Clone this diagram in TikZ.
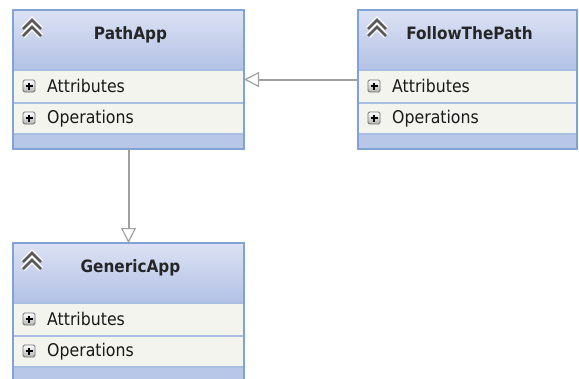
\documentclass[tikz,border=0pt]{standalone}
\usepackage{fontspec}
\setmainfont{DejaVu Sans Condensed}
\usetikzlibrary{arrows.meta}

\definecolor{clsborder}{RGB}{128,162,212}
\definecolor{hdtop}{RGB}{220,226,244}
\definecolor{hdbottom}{RGB}{178,193,229}
\definecolor{rowbg}{RGB}{242,244,237}
\definecolor{footbg}{RGB}{184,198,232}
\definecolor{sepblue}{RGB}{168,190,226}
\definecolor{linegray}{RGB}{160,160,160}

\tikzset{
  clsframe/.style={rectangle, inner sep=0pt, outer sep=0pt, anchor=north west,
    minimum height=139pt},
  rowtext/.style={anchor=base west, inner sep=0pt, text=black!90,
    font=\fontsize{17.5}{20}\selectfont},
  titletext/.style={anchor=base, inner sep=0pt, text=black!85,
    font=\bfseries\fontsize{17}{20}\selectfont},
  inherit/.style={draw=linegray, line width=2pt,
    -{Triangle[length=15pt,width=15pt,fill=white,line width=1.2pt]}},
  pics/plusbtn/.style={code={
    \draw[draw=black!55, line width=0.9pt, rounded corners=1.5pt,
      top color=white, bottom color=black!30] (-6,-6) rectangle (6,6);
    \draw[line width=1.6pt] (-3.5,0) -- (3.5,0) (0,-3.5) -- (0,3.5);
  }},
  pics/chevrons/.style={code={
    \draw[white, line width=5.5pt] (-9,9) -- (0,0) -- (9,9) (-9,16) -- (0,7) -- (9,16);
    \draw[black!65, line width=2.6pt] (-9,9) -- (0,0) -- (9,9) (-9,16) -- (0,7) -- (9,16);
  }}
}

% one class box: name, left, top, width, title
\newcommand{\classbox}[5]{%
  \node[clsframe, minimum width=#4pt] (#1) at (#2,#3) {};
  \shade[top color=hdtop, bottom color=hdbottom]
    (#1.north west) rectangle ([yshift=-60pt]#1.north east);
  \fill[rowbg] ([yshift=-60pt]#1.north west) rectangle ([yshift=-124pt]#1.north east);
  \fill[footbg] ([yshift=-124pt]#1.north west) rectangle (#1.south east);
  \draw[sepblue, line width=1.2pt]
    ([yshift=-60pt]#1.north west) -- ([yshift=-60pt]#1.north east)
    ([yshift=-93pt]#1.north west) -- ([yshift=-93pt]#1.north east)
    ([yshift=-124pt]#1.north west) -- ([yshift=-124pt]#1.north east);
  \draw[clsborder, line width=1.6pt] (#1.north west) rectangle (#1.south east);
  \pic at ([xshift=19pt,yshift=-10pt]#1.north west) {chevrons};
  \node[titletext] (#1-title) at ([xshift=2pt,yshift=-29pt]#1.north) {#5};
  \pic at ([xshift=16pt,yshift=-76pt]#1.north west) {plusbtn};
  \pic at ([xshift=16pt,yshift=-108pt]#1.north west) {plusbtn};
  \node[rowtext] (#1-attr) at ([xshift=34pt,yshift=-82pt]#1.north west) {Attributes};
  \node[rowtext] (#1-ops) at ([xshift=34pt,yshift=-113pt]#1.north west) {Operations};
}

\begin{document}
\begin{tikzpicture}[x=1pt, y=-1pt]
\useasboundingbox (0,0) rectangle (579,378);
\fill[white] (0,0) rectangle (579,378);

\classbox{pathapp}{13}{10}{231}{PathApp}
\classbox{follow}{358}{10}{219}{FollowThePath}
\classbox{generic}{13}{243}{231}{GenericApp}

\draw[inherit] (follow.west) -- (pathapp.east);
\draw[inherit] (pathapp.south) -- (generic.north);

\end{tikzpicture}
\end{document}
